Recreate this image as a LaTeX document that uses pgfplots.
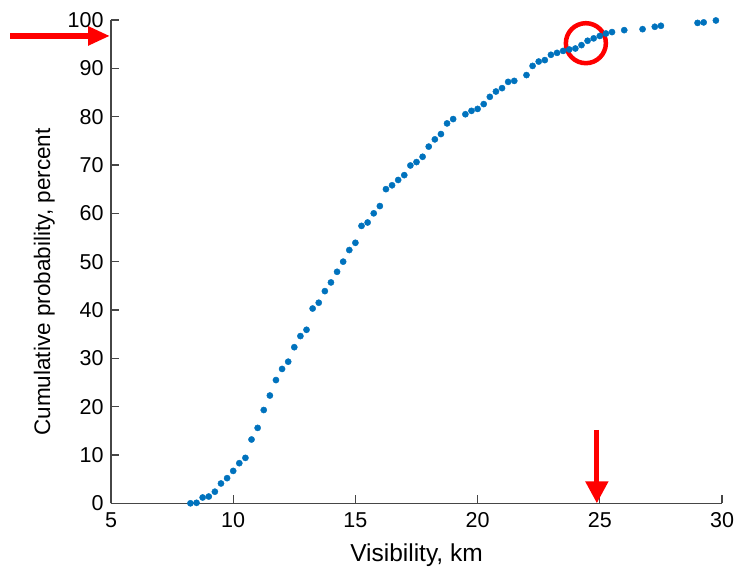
\documentclass[border=0pt]{standalone}
\usepackage{pgfplots}
\pgfplotsset{compat=1.18}
\usepackage{fontspec}
\setmainfont{Liberation Sans}
\usetikzlibrary{arrows.meta}
\definecolor{mblue}{RGB}{0,114,189}
\definecolor{axgray}{RGB}{70,70,70}
\begin{document}
\begin{tikzpicture}[x=1pt,y=1pt]
\path[use as bounding box] (0,0) rectangle (737,575);
\begin{axis}[
  at={(111pt,71.7pt)}, anchor=south west,
  width=611pt, height=483.3pt, scale only axis,
  xmin=5, xmax=30, ymin=0, ymax=100,
  axis x line=bottom, axis y line=left,
  axis line style={-, axgray, line width=1.2pt},
  xtick={5,10,...,30}, ytick={0,10,...,100},
  tick align=inside,
  major tick length=8pt,
  tick style={axgray, line width=1.2pt},
  /pgf/number format/assume math mode=true,
  ticklabel style={font=\fontsize{21.5}{24}\selectfont, black},
  xticklabel style={yshift=-6pt},
  yticklabel style={xshift=-4pt},
  xlabel={Visibility, km},
  ylabel={Cumulative probability, percent},
  xlabel style={font=\fontsize{24.5}{28}\selectfont, yshift=-9pt},
  ylabel style={font=\fontsize{22.5}{26}\selectfont, at={(ticklabel cs:0.458,6pt)}},
  clip=false,
]
\addplot[only marks, mark=*, mark size=3.1pt, mblue, mark options={draw=mblue, fill=mblue}] coordinates {
(8.25,0) (8.5,0.1) (8.75,1.2) (9.0,1.4) (9.25,2.4) (9.5,4.1) (9.75,5.2) (10.0,6.7)
(10.25,8.3) (10.5,9.4) (10.75,13.2) (11.0,15.6) (11.25,19.3) (11.5,22.3) (11.75,25.5)
(12.0,27.8) (12.25,29.3) (12.5,32.3) (12.75,34.6) (13.0,35.9) (13.25,40.3) (13.5,41.5)
(13.75,43.9) (14.0,45.7) (14.25,47.9) (14.5,50.0) (14.75,52.4) (15.0,53.9) (15.25,57.4)
(15.5,58.1) (15.75,60.0) (16.0,61.5) (16.25,65.0) (16.5,65.8) (16.75,66.9) (17.0,67.9)
(17.25,69.9) (17.5,70.6) (17.75,71.7) (18.0,73.8) (18.25,75.3) (18.5,76.4) (18.75,78.6)
(19.0,79.5) (19.5,80.5) (19.75,81.2) (20.0,81.6) (20.25,82.6) (20.5,84.1) (20.75,85.2)
(21.0,85.9) (21.25,87.2) (21.5,87.4) (22.0,88.6) (22.25,90.5) (22.5,91.4) (22.75,91.7)
(23.0,92.8) (23.25,93.2) (23.5,93.6) (23.75,93.9) (24.0,94.1) (24.25,94.8) (24.5,95.7)
(24.75,96.2) (25.0,96.7) (25.25,97.2) (25.5,97.5) (26.0,97.9) (26.75,98.1) (27.25,98.6)
(27.5,98.8) (29.0,99.4) (29.25,99.5) (29.75,99.9)
};
\draw[red, line width=4.5pt] (axis cs:24.43,95.2) circle[radius=20pt];
\draw[red, line width=6pt, -{Triangle[length=22pt,width=18pt]}] (axis cs:0.87,96.7) -- (axis cs:4.96,96.7);
\draw[red, line width=5pt, -{Triangle[length=22pt,width=22pt]}] (axis cs:24.88,15.2) -- (axis cs:24.88,0);
\end{axis}
\end{tikzpicture}
\end{document}
